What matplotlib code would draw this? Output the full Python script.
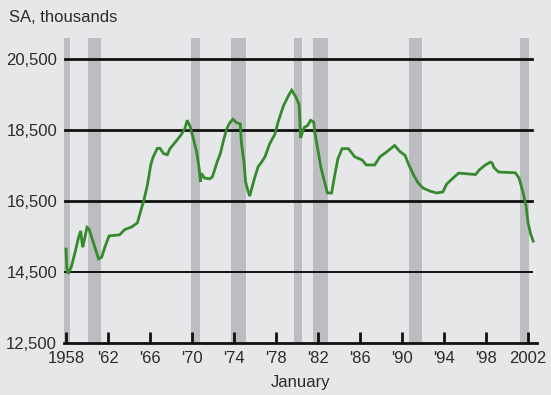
import matplotlib
matplotlib.use("Agg")
import matplotlib.pyplot as plt

plt.rcParams['font.family'] = ['Liberation Sans', 'DejaVu Sans']

# Manufacturing employment, SA, thousands
years = [1958.00, 1958.08, 1958.20, 1958.50, 1958.90, 1959.20, 1959.40, 1959.50, 1959.60, 1959.80,
         1960.00, 1960.20, 1960.45, 1960.75, 1961.10, 1961.40, 1961.70, 1962.10, 1963.10, 1963.60,
         1964.25, 1964.80, 1965.20, 1965.40, 1965.75, 1966.07, 1966.30, 1966.70, 1966.95, 1967.30,
         1967.65, 1967.90, 1968.40, 1968.90, 1969.30, 1969.55, 1969.80, 1970.10, 1970.45, 1970.70,
         1970.80, 1970.90, 1971.20, 1971.70, 1971.95, 1972.20, 1972.40, 1972.70, 1973.00, 1973.30,
         1973.60, 1973.90, 1974.25, 1974.60, 1974.70, 1974.95, 1975.10, 1975.30, 1975.50, 1975.70,
         1976.00, 1976.30, 1976.65, 1976.95, 1977.40, 1977.90, 1978.20, 1978.70, 1979.20, 1979.50,
         1979.90, 1980.20, 1980.35, 1980.50, 1980.70, 1981.00, 1981.30, 1981.60, 1981.70, 1982.00,
         1982.30, 1982.70, 1982.90, 1983.30, 1983.60, 1983.90, 1984.30, 1984.90, 1985.50, 1986.20,
         1986.60, 1987.40, 1987.90, 1988.50, 1989.30, 1989.80, 1990.30, 1990.60, 1991.10, 1991.55,
         1992.00, 1992.70, 1993.30, 1993.90, 1994.25, 1994.90, 1995.40, 1997.00, 1997.40, 1997.90,
         1998.40, 1998.60, 1998.75, 1999.20, 2000.80, 2001.15, 2001.50, 2001.80, 2002.00, 2002.25,
         2002.50]
employment = [15150, 14600, 14450, 14640, 15100, 15480, 15660, 15400, 15200, 15480,
              15760, 15710, 15480, 15200, 14870, 14920, 15200, 15520, 15550, 15700,
              15770, 15890, 16310, 16500, 16950, 17515, 17745, 17990, 17990, 17840,
              17810, 17980, 18160, 18345, 18530, 18780, 18620, 18300, 17880, 17380,
              17050, 17280, 17150, 17130, 17190, 17420, 17610, 17840, 18210, 18530,
              18710, 18810, 18710, 18680, 18160, 17610, 17050, 16820, 16640, 16870,
              17190, 17470, 17610, 17750, 18120, 18390, 18730, 19180, 19480, 19630,
              19430, 19230, 18280, 18430, 18580, 18630, 18780, 18730, 18440, 17930,
              17420, 16960, 16730, 16730, 17240, 17700, 17980, 17980, 17750, 17660,
              17520, 17520, 17750, 17880, 18070, 17900, 17790, 17560, 17240, 17010,
              16870, 16780, 16730, 16760, 16980, 17160, 17290, 17250, 17390, 17510,
              17600, 17570, 17450, 17320, 17300, 17150, 16780, 16400, 15900, 15580,
              15370]

# Recession periods (shaded bars)
recession_start = [1957.80, 1960.10, 1969.90, 1973.70, 1979.70, 1981.50, 1990.70, 2001.20]
recession_end = [1958.40, 1961.30, 1970.80, 1975.10, 1980.50, 1983.00, 1991.90, 2002.10]

y_ticks = [12500, 14500, 16500, 18500, 20500]
y_labels = ['12,500', '14,500', '16,500', '18,500', '20,500']
x_ticks = [1958, 1962, 1966, 1970, 1974, 1978, 1982, 1986, 1990, 1994, 1998, 2002]
x_labels = ['1958', "'62", "'66", "'70", "'74", "'78", "'82", "'86", "'90", "'94", "'98", '2002']

BG = '#e6e7e9'
BAR = '#bcbdc1'
GREEN = '#348a2c'
TXT = '#2b2b2b'

fig = plt.figure(figsize=(5.51, 3.95), dpi=100)
fig.patch.set_facecolor(BG)
W, H = 551, 395
left, right, bottom, top = 64, 537, 343, 38
ax = fig.add_axes([left / W, (H - bottom) / H, (right - left) / W, (bottom - top) / H])
ax.set_facecolor(BG)

ax.set_xlim(1957.81, 2002.86)
ax.set_ylim(12500, 21100)

for s, e in zip(recession_start, recession_end):
    ax.axvspan(s, e, color=BAR, lw=0, zorder=1)

for yv in y_ticks[1:]:
    ax.axhline(yv, xmin=0.002, xmax=0.989, color='#111111', lw=2.0 if yv != 14500 else 1.4, zorder=2)

ax.plot(years, employment, color=GREEN, lw=2.0, zorder=3, solid_joinstyle='miter')

for sp in ['left', 'right', 'top']:
    ax.spines[sp].set_visible(False)
ax.spines['bottom'].set_color('#111111')
ax.spines['bottom'].set_linewidth(2.0)
ax.spines['bottom'].set_zorder(4)

ax.set_yticks(y_ticks)
ax.set_yticklabels(y_labels)
ax.tick_params(axis='y', length=0, pad=5, labelsize=12, labelcolor=TXT)
ax.set_xticks(x_ticks)
ax.set_xticklabels(x_labels)
ax.tick_params(axis='x', direction='in', length=8, width=2, color='#111111',
               pad=6, labelsize=12, labelcolor=TXT)

ax.set_xlabel('January', fontsize=12, color=TXT, labelpad=6)
fig.text(9 / W, 1 - 17 / H, 'SA, thousands', fontsize=12, color=TXT, va='center', ha='left')

fig.savefig('out.png', dpi=100, facecolor=BG)
